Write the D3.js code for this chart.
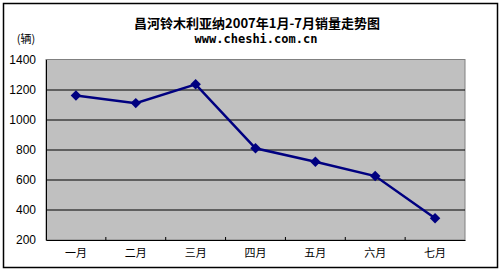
<!DOCTYPE html>
<html>
<head>
<meta charset="utf-8">
<script src="https://cdn.jsdelivr.net/npm/d3@7"></script>
<style>
  body { margin: 0; background: #fff; }
  svg { display: block; }
</style>
</head>
<body>
<div id="chart"></div>
<script>
// chart data
const months = ['一月', '二月', '三月', '四月', '五月', '六月', '七月'];
const sales = [1160, 1110, 1235, 810, 720, 625, 345];
const yTicks = [200, 400, 600, 800, 1000, 1200, 1400];

const W = 500, H = 270;
const margin = { top: 59.5, right: 35, bottom: 30, left: 46 };
const width = W - margin.left - margin.right;
const height = H - margin.top - margin.bottom;

const svg = d3.select('#chart').append('svg')
  .attr('width', W).attr('height', H);

// outer frame
svg.append('rect')
  .attr('x', 3.5).attr('y', 3.5)
  .attr('width', W - 6).attr('height', H - 6)
  .attr('fill', '#fff').attr('stroke', '#000').attr('stroke-width', 1.5);

// titles
svg.append('text')
  .attr('x', 257).attr('y', 28)
  .attr('text-anchor', 'middle')
  .style('font-family', '"Noto Sans CJK SC", sans-serif')
  .style('font-size', '13px').style('font-weight', 'bold')
  .text('昌河铃木利亚纳2007年1月-7月销量走势图');
svg.append('text')
  .attr('x', 256).attr('y', 43)
  .attr('text-anchor', 'middle')
  .style('font-family', '"DejaVu Sans Mono", monospace')
  .style('font-size', '12px').style('font-weight', 'bold')
  .text('www.cheshi.com.cn');
svg.append('text')
  .attr('x', 26).attr('y', 43)
  .attr('text-anchor', 'middle')
  .style('font-family', '"Noto Sans CJK SC", sans-serif')
  .style('font-size', '11px')
  .text('(辆)');

const x = d3.scaleBand().domain(months).range([0, width]);
const y = d3.scaleLinear().domain([200, 1400]).range([height, 0]);

const g = svg.append('g')
  .attr('transform', `translate(${margin.left}, ${margin.top})`);

// plot area
g.append('rect')
  .attr('width', width).attr('height', height)
  .attr('fill', '#c0c0c0').attr('stroke', '#808080');

// gridlines
g.selectAll('.grid')
  .data(yTicks.slice(1, -1))
  .enter().append('line')
  .attr('class', 'grid')
  .attr('x1', 0).attr('x2', width)
  .attr('y1', d => Math.round(y(d)) + 0.5).attr('y2', d => Math.round(y(d)) + 0.5)
  .attr('stroke', '#000');

// y axis
const yAxis = g.append('g')
  .call(d3.axisLeft(y).tickValues(yTicks).tickFormat(d3.format('d')).tickSize(0).tickPadding(10));
yAxis.select('.domain').attr('stroke', '#000');
yAxis.selectAll('text')
  .style('font-family', 'Arial, "Liberation Sans", sans-serif')
  .style('font-size', '12px').attr('fill', '#000');

// x axis
const xAxis = g.append('g')
  .attr('transform', `translate(0, ${height})`)
  .call(d3.axisBottom(x).tickSize(0).tickPadding(9));
xAxis.select('.domain').attr('stroke', '#000');
xAxis.selectAll('text')
  .style('font-family', '"Noto Sans CJK SC", sans-serif')
  .style('font-size', '11px').attr('fill', '#000');

// category boundary ticks
g.selectAll('.ctick')
  .data(months.slice(1))
  .enter().append('line')
  .attr('class', 'ctick')
  .attr('x1', d => x(d)).attr('x2', d => x(d))
  .attr('y1', height).attr('y2', height - 3)
  .attr('stroke', '#000');

// line
const line = d3.line()
  .x((d, i) => x(months[i]) + x.bandwidth() / 2)
  .y(d => y(d));
g.append('path')
  .datum(sales)
  .attr('d', line)
  .attr('fill', 'none')
  .attr('stroke', '#000080')
  .attr('stroke-width', 2.5);

// diamond markers
g.selectAll('.pt')
  .data(sales)
  .enter().append('path')
  .attr('class', 'pt')
  .attr('transform', (d, i) => `translate(${x(months[i]) + x.bandwidth() / 2}, ${y(d)})`)
  .attr('d', d3.symbol().type(d3.symbolDiamond2).size(70))
  .attr('fill', '#000080');
</script>
</body>
</html>
